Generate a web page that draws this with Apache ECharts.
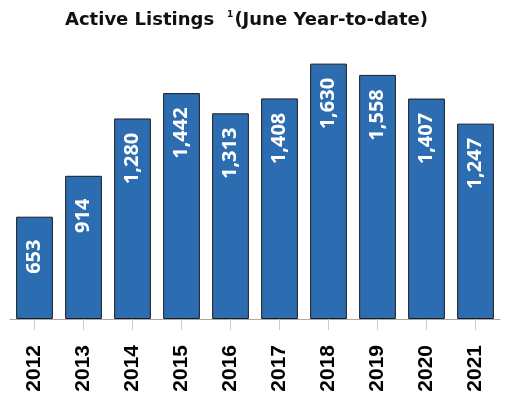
<!DOCTYPE html>
<html>
<head>
<meta charset="utf-8">
<script src="https://cdn.jsdelivr.net/npm/echarts@6/dist/echarts.min.js"></script>
<style>html,body{margin:0;padding:0;background:#fff;}#c{width:510px;height:410px;}</style>
</head>
<body>
<div id="c"></div>
<script>
const categories = ['2012','2013','2014','2015','2016','2017','2018','2019','2020','2021'];
const listings = [653, 914, 1280, 1442, 1313, 1408, 1630, 1558, 1407, 1247];

const chart = echarts.init(document.getElementById('c'), null, {renderer: 'canvas'});
chart.setOption({
  animation: false,
  backgroundColor: '#fff',
  title: {
    text: '{main|Active Listings}{sup|1}{main|(June Year-to-date)}',
    left: 60,
    top: 4,
    textStyle: {
      rich: {
        main: {fontFamily: 'DejaVu Sans', fontWeight: 'bold', fontSize: 18, color: '#111', lineHeight: 22},
        sup: {fontFamily: 'DejaVu Sans', fontWeight: 'bold', fontSize: 9, color: '#111', lineHeight: 22, padding: [0, 1, 10, 13]}
      }
    }
  },
  grid: {left: 10, right: 10, top: 37, bottom: 91},
  xAxis: {
    type: 'category',
    data: categories,
    axisLine: {lineStyle: {color: '#aaa', width: 1}},
    axisTick: {show: true, alignWithLabel: true, length: 11, lineStyle: {color: '#ccc', width: 1}},
    axisLabel: {
      rotate: 90,
      margin: 26,
      color: '#000',
      fontWeight: 'bold',
      fontSize: 21,
      fontFamily: 'Liberation Sans'
    }
  },
  yAxis: {
    type: 'value',
    min: 0,
    max: 1800,
    show: false,
    splitLine: {show: false}
  },
  series: [{
    type: 'bar',
    data: listings,
    barWidth: '75%',
    itemStyle: {color: '#2c6cb0', borderColor: '#1c1c1c', borderWidth: 1},
    label: {
      show: true,
      position: 'insideTop',
      distance: 40,
      rotate: 90,
      align: 'center',
      verticalAlign: 'middle',
      color: '#fff',
      fontWeight: 'bold',
      fontSize: 20,
      fontFamily: 'Open Sans',
      formatter: p => p.value.toLocaleString('en-US')
    }
  }]
});
</script>
</body>
</html>
